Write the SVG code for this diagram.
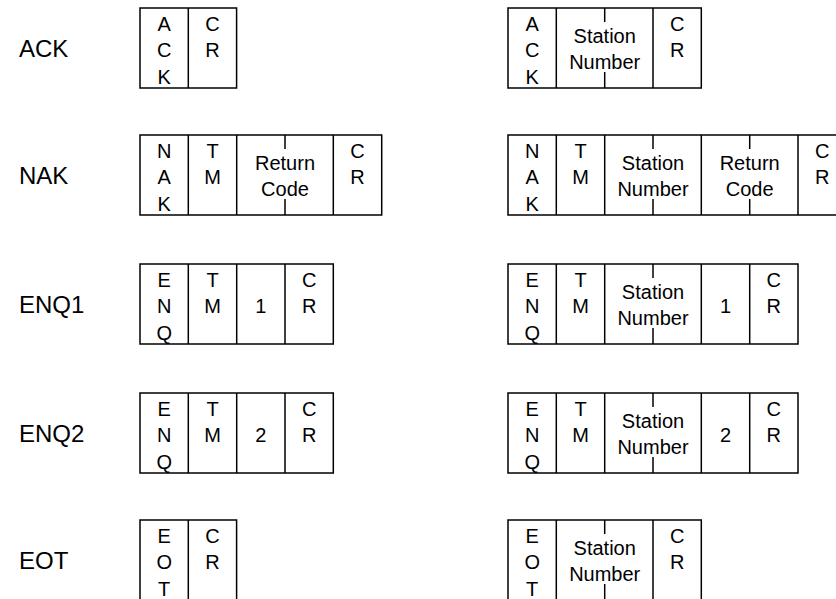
<svg xmlns="http://www.w3.org/2000/svg" width="836" height="599" viewBox="0 0 836 599">
<style>
.bx{fill:none;stroke:#000;stroke-width:1.5}
.ln{stroke:#000;stroke-width:1.5}
.t{font-family:"Liberation Sans",Arial,sans-serif;font-size:20px;text-anchor:middle;fill:#000}
.lbl{font-family:"Liberation Sans",Arial,sans-serif;font-size:24px;fill:#000}
</style>
<rect width="836" height="599" fill="#fff"/>

<g id="ack">
<text class="lbl" x="19" y="57">ACK</text>
<rect class="bx" x="140" y="8" width="96.6" height="80"/>
<line class="ln" x1="188.3" y1="8" x2="188.3" y2="88"/>
<text class="t" x="164.2" y="30.5">A</text><text class="t" x="164.2" y="57">C</text><text class="t" x="164.2" y="83.5">K</text>
<text class="t" x="212.5" y="30.5">C</text><text class="t" x="212.5" y="57">R</text>
</g>
<g id="ack-station">
<rect class="bx" x="508" y="8" width="193.3" height="80"/>
<line class="ln" x1="556.3" y1="8" x2="556.3" y2="88"/>
<line class="ln" x1="653" y1="8" x2="653" y2="88"/>
<line class="ln" x1="604.7" y1="8" x2="604.7" y2="22"/>
<line class="ln" x1="604.7" y1="72" x2="604.7" y2="88"/>
<text class="t" x="532.2" y="30.5">A</text><text class="t" x="532.2" y="57">C</text><text class="t" x="532.2" y="83.5">K</text>
<text class="t" x="604.7" y="42.5">Station</text><text class="t" x="604.7" y="68.5">Number</text>
<text class="t" x="677.2" y="30.5">C</text><text class="t" x="677.2" y="57">R</text>
</g>

<g id="nak">
<text class="lbl" x="19" y="184">NAK</text>
<rect class="bx" x="140" y="135" width="241.7" height="80"/>
<line class="ln" x1="188.3" y1="135" x2="188.3" y2="215"/>
<line class="ln" x1="236.7" y1="135" x2="236.7" y2="215"/>
<line class="ln" x1="333.3" y1="135" x2="333.3" y2="215"/>
<line class="ln" x1="285" y1="135" x2="285" y2="149"/>
<line class="ln" x1="285" y1="199" x2="285" y2="215"/>
<text class="t" x="164.2" y="157.5">N</text><text class="t" x="164.2" y="184">A</text><text class="t" x="164.2" y="210.5">K</text>
<text class="t" x="212.5" y="157.5">T</text><text class="t" x="212.5" y="184">M</text>
<text class="t" x="285" y="169.5">Return</text><text class="t" x="285" y="195.5">Code</text>
<text class="t" x="357.5" y="157.5">C</text><text class="t" x="357.5" y="184">R</text>
</g>
<g id="nak-station">
<rect class="bx" x="508" y="135" width="338.3" height="80"/>
<line class="ln" x1="556.3" y1="135" x2="556.3" y2="215"/>
<line class="ln" x1="604.7" y1="135" x2="604.7" y2="215"/>
<line class="ln" x1="701.3" y1="135" x2="701.3" y2="215"/>
<line class="ln" x1="798" y1="135" x2="798" y2="215"/>
<line class="ln" x1="653" y1="135" x2="653" y2="149"/>
<line class="ln" x1="653" y1="199" x2="653" y2="215"/>
<line class="ln" x1="749.7" y1="135" x2="749.7" y2="149"/>
<line class="ln" x1="749.7" y1="199" x2="749.7" y2="215"/>
<text class="t" x="532.2" y="157.5">N</text><text class="t" x="532.2" y="184">A</text><text class="t" x="532.2" y="210.5">K</text>
<text class="t" x="580.5" y="157.5">T</text><text class="t" x="580.5" y="184">M</text>
<text class="t" x="653" y="169.5">Station</text><text class="t" x="653" y="195.5">Number</text>
<text class="t" x="749.7" y="169.5">Return</text><text class="t" x="749.7" y="195.5">Code</text>
<text class="t" x="822.2" y="157.5">C</text><text class="t" x="822.2" y="184">R</text>
</g>

<g id="enq1">
<text class="lbl" x="19" y="313">ENQ1</text>
<rect class="bx" x="140" y="264" width="193.3" height="80"/>
<line class="ln" x1="188.3" y1="264" x2="188.3" y2="344"/>
<line class="ln" x1="236.7" y1="264" x2="236.7" y2="344"/>
<line class="ln" x1="285" y1="264" x2="285" y2="344"/>
<text class="t" x="164.2" y="286.5">E</text><text class="t" x="164.2" y="313">N</text><text class="t" x="164.2" y="339.5">Q</text>
<text class="t" x="212.5" y="286.5">T</text><text class="t" x="212.5" y="313">M</text>
<text class="t" x="260.8" y="313">1</text>
<text class="t" x="309.2" y="286.5">C</text><text class="t" x="309.2" y="313">R</text>
</g>
<g id="enq1-station">
<rect class="bx" x="508" y="264" width="290" height="80"/>
<line class="ln" x1="556.3" y1="264" x2="556.3" y2="344"/>
<line class="ln" x1="604.7" y1="264" x2="604.7" y2="344"/>
<line class="ln" x1="701.3" y1="264" x2="701.3" y2="344"/>
<line class="ln" x1="749.7" y1="264" x2="749.7" y2="344"/>
<line class="ln" x1="653" y1="264" x2="653" y2="278"/>
<line class="ln" x1="653" y1="328" x2="653" y2="344"/>
<text class="t" x="532.2" y="286.5">E</text><text class="t" x="532.2" y="313">N</text><text class="t" x="532.2" y="339.5">Q</text>
<text class="t" x="580.5" y="286.5">T</text><text class="t" x="580.5" y="313">M</text>
<text class="t" x="653" y="298.5">Station</text><text class="t" x="653" y="324.5">Number</text>
<text class="t" x="725.5" y="313">1</text>
<text class="t" x="773.8" y="286.5">C</text><text class="t" x="773.8" y="313">R</text>
</g>

<g id="enq2">
<text class="lbl" x="19" y="442">ENQ2</text>
<rect class="bx" x="140" y="393" width="193.3" height="80"/>
<line class="ln" x1="188.3" y1="393" x2="188.3" y2="473"/>
<line class="ln" x1="236.7" y1="393" x2="236.7" y2="473"/>
<line class="ln" x1="285" y1="393" x2="285" y2="473"/>
<text class="t" x="164.2" y="415.5">E</text><text class="t" x="164.2" y="442">N</text><text class="t" x="164.2" y="468.5">Q</text>
<text class="t" x="212.5" y="415.5">T</text><text class="t" x="212.5" y="442">M</text>
<text class="t" x="260.8" y="442">2</text>
<text class="t" x="309.2" y="415.5">C</text><text class="t" x="309.2" y="442">R</text>
</g>
<g id="enq2-station">
<rect class="bx" x="508" y="393" width="290" height="80"/>
<line class="ln" x1="556.3" y1="393" x2="556.3" y2="473"/>
<line class="ln" x1="604.7" y1="393" x2="604.7" y2="473"/>
<line class="ln" x1="701.3" y1="393" x2="701.3" y2="473"/>
<line class="ln" x1="749.7" y1="393" x2="749.7" y2="473"/>
<line class="ln" x1="653" y1="393" x2="653" y2="407"/>
<line class="ln" x1="653" y1="457" x2="653" y2="473"/>
<text class="t" x="532.2" y="415.5">E</text><text class="t" x="532.2" y="442">N</text><text class="t" x="532.2" y="468.5">Q</text>
<text class="t" x="580.5" y="415.5">T</text><text class="t" x="580.5" y="442">M</text>
<text class="t" x="653" y="427.5">Station</text><text class="t" x="653" y="453.5">Number</text>
<text class="t" x="725.5" y="442">2</text>
<text class="t" x="773.8" y="415.5">C</text><text class="t" x="773.8" y="442">R</text>
</g>

<g id="eot">
<text class="lbl" x="19" y="569">EOT</text>
<rect class="bx" x="140" y="520" width="96.6" height="80"/>
<line class="ln" x1="188.3" y1="520" x2="188.3" y2="600"/>
<text class="t" x="164.2" y="542.5">E</text><text class="t" x="164.2" y="569">O</text><text class="t" x="164.2" y="595.5">T</text>
<text class="t" x="212.5" y="542.5">C</text><text class="t" x="212.5" y="569">R</text>
</g>
<g id="eot-station">
<rect class="bx" x="508" y="520" width="193.3" height="80"/>
<line class="ln" x1="556.3" y1="520" x2="556.3" y2="600"/>
<line class="ln" x1="653" y1="520" x2="653" y2="600"/>
<line class="ln" x1="604.7" y1="520" x2="604.7" y2="534"/>
<line class="ln" x1="604.7" y1="584" x2="604.7" y2="600"/>
<text class="t" x="532.2" y="542.5">E</text><text class="t" x="532.2" y="569">O</text><text class="t" x="532.2" y="595.5">T</text>
<text class="t" x="604.7" y="554.5">Station</text><text class="t" x="604.7" y="580.5">Number</text>
<text class="t" x="677.2" y="542.5">C</text><text class="t" x="677.2" y="569">R</text>
</g>
</svg>
